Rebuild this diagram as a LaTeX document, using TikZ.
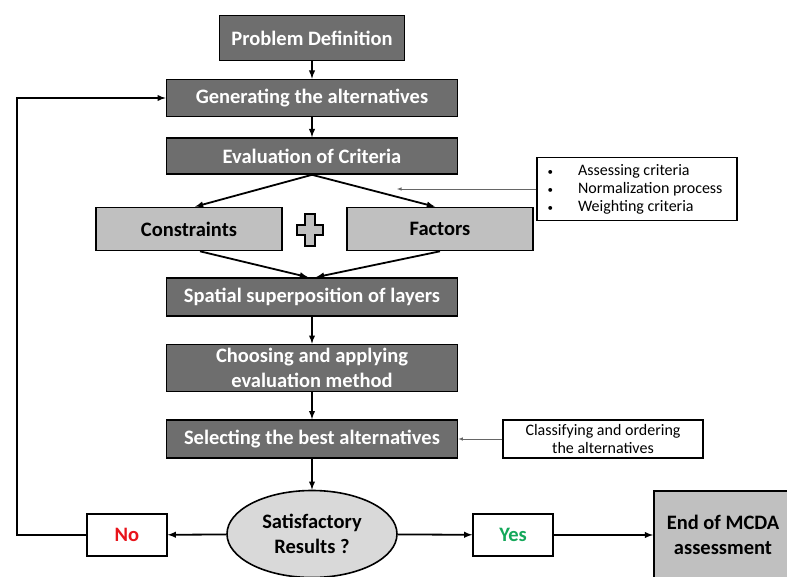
\documentclass[tikz,border=0pt]{standalone}
\usepackage{fontspec}
\setmainfont{Carlito}
\usetikzlibrary{shapes.geometric,positioning}
\definecolor{darkbox}{HTML}{6E6E6E}
\definecolor{lightbox}{HTML}{C0C0C0}
\definecolor{ovalgray}{HTML}{D9D9D9}
\definecolor{noRed}{HTML}{E8141B}
\definecolor{yesGreen}{HTML}{14A85A}
\newcommand{\smallbullet}{{\fontsize{11}{11}\selectfont\textbullet}\hspace{25pt}}
\tikzset{
  stepbox/.style={draw=black, line width=1.6pt, fill=darkbox, text=white,
    font=\bfseries\fontsize{20.5}{25}\selectfont, align=center,
    minimum width=291pt, minimum height=37pt, inner sep=1pt},
  sidebox/.style={draw=black, line width=1.6pt, fill=lightbox,
    font=\bfseries\fontsize{20.5}{25}\selectfont,
    minimum width=186pt, minimum height=43pt},
  notebox/.style={draw=black, line width=1.2pt, fill=white,
    font=\fontsize{16}{18}\selectfont, align=center, inner sep=1pt},
  answer/.style={draw=black, line width=1.4pt, fill=white,
    font=\bfseries\fontsize{20.5}{25}\selectfont,
    minimum width=80pt, minimum height=42pt},
  flow/.style={-latex, line width=1.8pt},
  thin/.style={-latex, line width=0.6pt, draw=gray!80!black}
}
\begin{document}
\begin{tikzpicture}[x=1pt, y=-1pt]
  \useasboundingbox (0,0) rectangle (787,577);
  \clip (0,0) rectangle (787,577);

  \node[stepbox, minimum width=185pt, minimum height=45pt] (prob) at (312,38) {Problem Definition};
  \node[stepbox] (gen)  at (312,98)  {Generating the alternatives};
  \node[stepbox, minimum height=36pt] (eval) at (312,156) {Evaluation of Criteria};
  \node[sidebox] (cons) at (189,229) {Constraints};
  \node[sidebox] (fact) at (440,229) {Factors};
  \node[stepbox, minimum height=38pt] (spat) at (312,297) {Spatial superposition of layers};
  \node[stepbox, minimum height=47pt] (choose) at (312,368)
    {Choosing and applying\\evaluation method};
  \node[stepbox, minimum height=38pt] (sel) at (312,439) {Selecting the best alternatives};
  \node[ellipse, draw=black, line width=1.6pt, fill=ovalgray, align=center,
    font=\bfseries\fontsize{20.5}{25}\selectfont,
    minimum width=170pt, minimum height=87pt, inner sep=0pt] (sat) at (312,534)
    {Satisfactory\\Results ?};
  \node[answer, text=noRed] (no) at (127,535) {No};
  \node[answer, text=yesGreen] (yes) at (513,535) {Yes};
  \node[draw=black, line width=1.6pt, fill=lightbox,
    minimum width=140pt, minimum height=100pt, anchor=north west] (mcda) at (653,490) {};
  \node[font=\bfseries\fontsize{20.5}{25}\selectfont, align=center] (mcdatext) at (723,535)
    {End of MCDA\\assessment};

  % notes
  \node[notebox, minimum width=200pt, minimum height=63pt] (assess) at (637,189) {};
  \node[font=\fontsize{16}{18}\selectfont, align=left, anchor=west] (assesstext) at (544,189)
    {\smallbullet Assessing criteria\\
     \smallbullet Normalization process\\
     \smallbullet Weighting criteria};
  \node[notebox, minimum width=200pt, minimum height=38pt] (classify) at (603,439)
    {Classifying and ordering\\the alternatives};
  \coordinate (assessend) at (397,189);

  % plus sign
  \draw[line width=1.2pt, fill=lightbox]
    (305,214) -- (315,214) -- (315,225) -- (323,225) -- (323,235) -- (315,235)
    -- (315,246) -- (305,246) -- (305,235) -- (297,235) -- (297,225) -- (305,225) -- cycle;

  % connectors
  \draw[flow] (prob) -- (gen);
  \draw[flow] (gen) -- (eval);
  \draw[flow] (eval.south) -- (cons.north -| 195,0);
  \draw[flow] (eval.south) -- (fact.north -| 435,0);
  \draw[flow] (cons.south -| 200,0) -- (spat.north -| 308,0);
  \draw[flow] (fact.south -| 440,0) -- (spat.north -| 316,0);
  \draw[flow] (spat) -- (choose);
  \draw[flow] (choose) -- (sel);
  \draw[flow] (sel) -- (sat);
  \draw[flow] (sat) -- (no);
  \draw[flow] (sat) -- (yes);
  \draw[flow] (yes) -- (mcda.west |- yes);
  \draw[flow] (no.west) -- (17,535) -- (17,98) -- (gen.west);
  \draw[thin] (assess.west) -- (assessend);
  \draw[thin] (classify) -- (sel);
\end{tikzpicture}
\end{document}
